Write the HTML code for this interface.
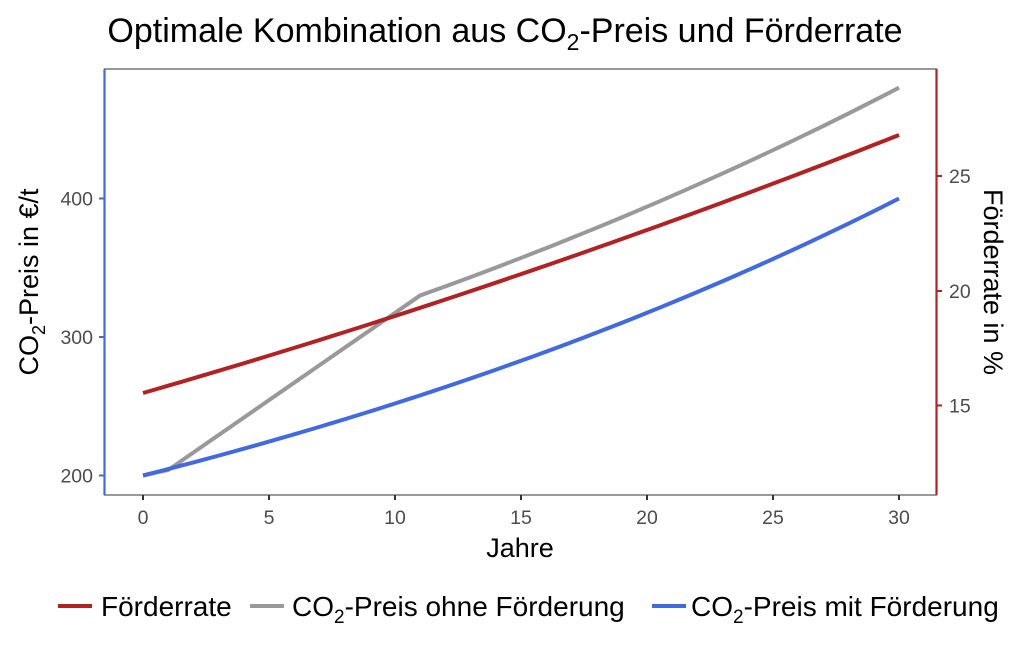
<!DOCTYPE html>
<html><head><meta charset="utf-8"><style>
body{margin:0;background:#fff;}
svg{font-family:"Liberation Sans",Arial,sans-serif;}
</style></head><body>
<svg id="s" width="1024" height="640" viewBox="0 0 1024 640">
<text x="505" y="42" font-size="34" text-anchor="middle" fill="#000">Optimale Kombination aus CO<tspan font-size="23" dy="8">2</tspan><tspan dy="-8">-Preis und Förderrate</tspan></text>
<rect x="104.5" y="69" width="832" height="426" fill="none" stroke="#555" stroke-width="1.2"/>
<line x1="104.5" y1="69" x2="104.5" y2="495" stroke="#4169e1" stroke-width="2.2"/>
<line x1="936.5" y1="69" x2="936.5" y2="495" stroke="#b22222" stroke-width="2.2"/>
<g stroke="#4169e1" stroke-width="2"><line x1="99" x2="104" y1="198.5" y2="198.5"/><line x1="99" x2="104" y1="337" y2="337"/><line x1="99" x2="104" y1="475.5" y2="475.5"/></g>
<g font-size="19.5" fill="#4d4d4d" text-anchor="end"><text x="93" y="205.5">400</text><text x="93" y="344">300</text><text x="93" y="482.5">200</text></g>
<g stroke="#b22222" stroke-width="2"><line x1="937" x2="942" y1="176" y2="176"/><line x1="937" x2="942" y1="291" y2="291"/><line x1="937" x2="942" y1="405.5" y2="405.5"/></g>
<g font-size="19.5" fill="#4d4d4d"><text x="949" y="183">25</text><text x="949" y="298">20</text><text x="949" y="412.5">15</text></g>
<g stroke="#333" stroke-width="2" id="xt"></g>
<g font-size="19.5" fill="#4d4d4d" text-anchor="middle" id="xl"></g>
<text x="520" y="557" font-size="27" text-anchor="middle">Jahre</text>
<text transform="translate(38,282) rotate(-90)" font-size="27" text-anchor="middle">CO<tspan font-size="18" dy="7">2</tspan><tspan dy="-7">-Preis in €/t</tspan></text>
<text transform="translate(984,282) rotate(90)" font-size="27" text-anchor="middle">Förderrate in %</text>
<path id="pg" fill="none" stroke="#999" stroke-width="4"/>
<path id="pr" fill="none" stroke="#b22222" stroke-width="4"/>
<path id="pb" fill="none" stroke="#4169e1" stroke-width="4"/>
<g font-size="28">
<line x1="58" x2="92" y1="606" y2="606" stroke="#b22222" stroke-width="4"/><text x="101" y="616">Förderrate</text>
<line x1="250" x2="284" y1="606" y2="606" stroke="#999" stroke-width="4"/><text x="292" y="616">CO<tspan font-size="19" dy="7">2</tspan><tspan dy="-7">-Preis ohne Förderung</tspan></text>
<line x1="652" x2="686" y1="606" y2="606" stroke="#4169e1" stroke-width="4"/><text x="691" y="616">CO<tspan font-size="19" dy="7">2</tspan><tspan dy="-7">-Preis mit Förderung</tspan></text>
</g>
</svg>
<script>
var X=function(t){return 143+t*25.2},Y=function(v){return 475.5-(v-200)*1.385};
var xt=document.getElementById('xt'),xl=document.getElementById('xl');
for(var i=0;i<=30;i+=5){var x=X(i);xt.innerHTML+='<line x1="'+x+'" x2="'+x+'" y1="495" y2="500"/>';xl.innerHTML+='<text x="'+x+'" y="524">'+i+'</text>';}
var b=[],r=[],g=[];
for(var t=0;t<=30;t+=0.5){
b.push(X(t)+','+Y(200*Math.pow(2,t/30)));
r.push(X(t)+','+(393-7.25*t-0.045*t*t));
var gv=t<=1?200+4*t:(t<=11?204+(330-204)*(t-1)/10:330*Math.pow(480/330,(t-11)/19));
g.push(X(t)+','+Y(gv));}
document.getElementById('pb').setAttribute('d','M'+b.join('L'));
document.getElementById('pr').setAttribute('d','M'+r.join('L'));
document.getElementById('pg').setAttribute('d','M'+g.join('L'));
</script>
</body></html>
